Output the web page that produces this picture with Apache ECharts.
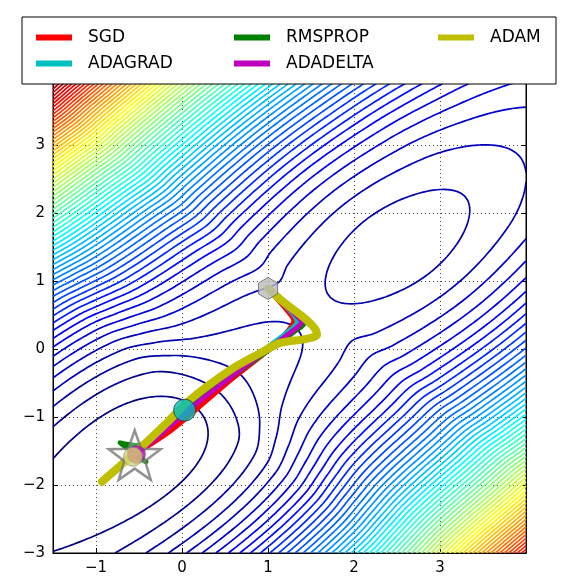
<!DOCTYPE html>
<html>
<head>
<meta charset="utf-8">
<script src="https://cdn.jsdelivr.net/npm/echarts@6/dist/echarts.min.js"></script>
<style>
html, body { margin: 0; padding: 0; background: #fff; }
#main { width: 574px; height: 581px; }
</style>
</head>
<body>
<div id="main"></div>
<script>
// optimizers and their paths (data coords)
var optimizers = ['SGD', 'ADAGRAD', 'RMSPROP', 'ADADELTA', 'ADAM'];
var sgdPath = [[1.0, 0.89], [1.12, 0.72], [1.24, 0.54], [1.3, 0.42], [1.2, 0.22], [0.98, -0.04], [0.6, -0.42], [0.2, -0.85], [-0.12, -1.19], [-0.45, -1.47]];
var adagradPath = [[1.0, 0.89], [1.15, 0.7], [1.3, 0.5], [1.34, 0.4], [1.22, 0.24], [1.0, 0.03], [0.6, -0.36], [0.3, -0.64], [0.03, -0.9]];
var rmspropPath = [[1.0, 0.89], [1.2, 0.66], [1.37, 0.46], [1.42, 0.38], [1.3, 0.25], [1.05, 0.02], [0.6, -0.38], [0.1, -0.84], [-0.3, -1.25], [-0.5, -1.42], [-0.72, -1.38], [-0.42, -1.66], [-0.58, -1.55]];
var adadeltaPath = [[1.0, 0.89], [1.2, 0.64], [1.35, 0.47], [1.39, 0.4], [1.26, 0.24], [1.0, 0.0], [0.6, -0.38], [0.15, -0.82], [-0.2, -1.2], [-0.5, -1.52]];
var adamPath = [[1.0, 0.89], [1.2, 0.67], [1.4, 0.48], [1.54, 0.31], [1.57, 0.21], [1.45, 0.15], [1.14, 0.09], [0.91, -0.06], [0.56, -0.31], [0.09, -0.75], [-0.18, -1.09], [-0.55, -1.53], [-0.93, -1.95]];
var paths = [sgdPath, adagradPath, rmspropPath, adadeltaPath, adamPath];

// markers: start, minimum, current positions
var startPoint = [1.0, 0.89];
var minPoint = [-0.55, -1.56];
var adagradNow = [0.03, -0.9];
var adadeltaNow = [-0.53, -1.55];
var adamNow = [-0.57, -1.585];

// surface: valley along x - y = 1,
// height along the valley floor (in contour steps) and the rise of the walls
var valleyOffset = 1.0;
var saddleSum = 2.1;
var valleyPos = [-6.0, -4.67, -3.1, -1.98, -1.63, -1.27, -0.33, 0.0, 0.27, 1.35, 2.43, 3.3, 4.3, 5.5];
var valleyLevel = [0.6, -0.2, -0.9, 0, 1, 2, 3, 3.3, 3.0, 2.45, 3.0, 4.0, 5.3, 7.0];
var wallQuad = 2.6;
var wallDip = 0.3;
var wallDipWidth = 2.0;
var lowerWallGain = 0.25;
var upperWallGain = 0.2;

// contour levels
var levelStart = 0;
var levelStep = 1;
var levelCount = 68;

var xRange = [-1.5, 4];
var yRange = [-3, 4];

var colors = ['#ff0000', '#00bfbf', '#008000', '#bf00bf', '#bfbf00'];
var widths = [5, 5, 5, 5, 8];

// monotone cubic through the valley profile
var slopes = (function () {
    var n = valleyPos.length, d = [], m = [];
    for (var k = 0; k < n - 1; k++) d.push((valleyLevel[k + 1] - valleyLevel[k]) / (valleyPos[k + 1] - valleyPos[k]));
    m[0] = d[0]; m[n - 1] = d[n - 2];
    for (var k = 1; k < n - 1; k++) m[k] = d[k - 1] * d[k] <= 0 ? 0 : (d[k - 1] + d[k]) / 2;
    for (var k = 0; k < n - 1; k++) {
        if (d[k] === 0) { m[k] = 0; m[k + 1] = 0; continue; }
        var al = m[k] / d[k], be = m[k + 1] / d[k], s2 = al * al + be * be;
        if (s2 > 9) { var t = 3 / Math.sqrt(s2); m[k] = t * al * d[k]; m[k + 1] = t * be * d[k]; }
    }
    return m;
})();

function valley(v) {
    var n = valleyPos.length;
    if (v <= valleyPos[0]) return valleyLevel[0] + slopes[0] * (v - valleyPos[0]);
    if (v >= valleyPos[n - 1]) return valleyLevel[n - 1] + slopes[n - 1] * (v - valleyPos[n - 1]);
    var k = 0;
    while (v > valleyPos[k + 1]) k++;
    var h = valleyPos[k + 1] - valleyPos[k], t = (v - valleyPos[k]) / h;
    var t2 = t * t, t3 = t2 * t;
    return (2 * t3 - 3 * t2 + 1) * valleyLevel[k] + (t3 - 2 * t2 + t) * h * slopes[k] +
        (-2 * t3 + 3 * t2) * valleyLevel[k + 1] + (t3 - t2) * h * slopes[k + 1];
}

function surface(x, y) {
    var u = (x - y - valleyOffset) / Math.SQRT2;
    var v = (x + y - saddleSum) / Math.SQRT2;
    var u2 = u * u;
    var wall = wallQuad * u2 * (1 - wallDip * Math.exp(-u2 / (wallDipWidth * wallDipWidth)));
    wall *= 1 + (u > 0 ? lowerWallGain : upperWallGain) * u2 / (u2 + 6);
    return valley(v) + wall;
}

function jet(t) {
    function c(a) { return Math.round(255 * Math.max(0, Math.min(1, a))); }
    return 'rgb(' + c(1.5 - Math.abs(4 * t - 3)) + ',' + c(1.5 - Math.abs(4 * t - 2)) + ',' + c(1.5 - Math.abs(4 * t - 1)) + ')';
}

// grid
var nx = 139, ny = 176;
var xs = [], ys = [], z = [];
for (var i = 0; i < nx; i++) xs.push(xRange[0] + i * (xRange[1] - xRange[0]) / (nx - 1));
for (var j = 0; j < ny; j++) ys.push(yRange[0] + j * (yRange[1] - yRange[0]) / (ny - 1));
for (var j = 0; j < ny; j++) {
    var row = [];
    for (var i = 0; i < nx; i++) row.push(surface(xs[i], ys[j]));
    z.push(row);
}

function edgePoint(id, lev) {
    var cell = id >> 1, i = cell % nx, j = (cell - i) / nx;
    var a = z[j][i];
    if ((id & 1) === 0) {
        var b = z[j][i + 1], t = (lev - a) / (b - a);
        return [xs[i] + t * (xs[i + 1] - xs[i]), ys[j]];
    }
    var b2 = z[j + 1][i], t2 = (lev - a) / (b2 - a);
    return [xs[i], ys[j] + t2 * (ys[j + 1] - ys[j])];
}

// marching squares, then join the pieces into polylines
function traceLevel(lev) {
    var segs = [];
    for (var j = 0; j < ny - 1; j++) {
        for (var i = 0; i < nx - 1; i++) {
            var a = z[j][i] > lev, b = z[j][i + 1] > lev, c = z[j + 1][i + 1] > lev, d = z[j + 1][i] > lev;
            var eB = (j * nx + i) * 2, eT = ((j + 1) * nx + i) * 2;
            var eL = (j * nx + i) * 2 + 1, eR = (j * nx + i + 1) * 2 + 1;
            var cr = [];
            if (a !== b) cr.push(eB);
            if (b !== c) cr.push(eR);
            if (c !== d) cr.push(eT);
            if (d !== a) cr.push(eL);
            if (cr.length === 2) segs.push(cr);
            else if (cr.length === 4) {
                var mid = (z[j][i] + z[j][i + 1] + z[j + 1][i + 1] + z[j + 1][i]) / 4 > lev;
                if (mid === a) { segs.push([eB, eR]); segs.push([eT, eL]); }
                else { segs.push([eL, eB]); segs.push([eR, eT]); }
            }
        }
    }
    var adj = {};
    segs.forEach(function (s, k) {
        (adj[s[0]] = adj[s[0]] || []).push(k);
        (adj[s[1]] = adj[s[1]] || []).push(k);
    });
    var used = new Uint8Array(segs.length);
    var lines = [];
    function step(cur) {
        var list = adj[cur] || [];
        for (var q = 0; q < list.length; q++) {
            if (!used[list[q]]) {
                used[list[q]] = 1;
                var s = segs[list[q]];
                return s[0] === cur ? s[1] : s[0];
            }
        }
        return null;
    }
    for (var k = 0; k < segs.length; k++) {
        if (used[k]) continue;
        used[k] = 1;
        var ids = [segs[k][0], segs[k][1]];
        var cur = segs[k][1], nxt;
        while ((nxt = step(cur)) !== null) { ids.push(nxt); cur = nxt; }
        cur = segs[k][0];
        while ((nxt = step(cur)) !== null) { ids.unshift(nxt); cur = nxt; }
        lines.push(ids.map(function (id) { return edgePoint(id, lev); }));
    }
    return lines;
}

var contourData = [];
for (var n = 0; n < levelCount; n++) {
    var lev = levelStart + n * levelStep;
    var col = jet(n / (levelCount - 1));
    traceLevel(lev).forEach(function (pl) {
        contourData.push({ coords: pl, lineStyle: { color: col } });
    });
}

var myChart = echarts.init(document.getElementById('main'));

function minus(v) { return String(v).replace('-', '\u2212'); }

var series = [{
    type: 'lines',
    coordinateSystem: 'cartesian2d',
    polyline: true,
    silent: true,
    lineStyle: { width: 1.7, opacity: 1 },
    data: contourData,
    z: 1
}];

for (var s = 0; s < optimizers.length; s++) {
    series.push({
        name: optimizers[s],
        type: 'line',
        data: paths[s],
        smooth: 0.3,
        showSymbol: false,
        color: colors[s],
        lineStyle: { width: widths[s], color: colors[s], cap: 'round', join: 'round' },
        z: 3 + s
    });
}

series.push({
    type: 'scatter', z: 10, silent: true,
    data: [minPoint],
    symbol: 'path://M0,-50L11.76,-16.18L47.55,-15.45L19.02,6.18L29.39,40.45L0,20L-29.39,40.45L-19.02,6.18L-47.55,-15.45L-11.76,-16.18Z',
    symbolSize: 52, symbolKeepAspect: true,
    itemStyle: { color: 'rgba(255,255,255,0.35)', borderColor: '#777777', borderWidth: 2.5 }
});
series.push({
    type: 'scatter', z: 11, silent: true,
    data: [adadeltaNow], symbolSize: 18,
    itemStyle: { color: '#bf00bf', borderColor: '#555', borderWidth: 0.8 }
});
series.push({
    type: 'scatter', z: 12, silent: true,
    data: [adamNow], symbolSize: 19,
    itemStyle: { color: 'rgba(210,210,110,0.95)', borderColor: '#888', borderWidth: 0.8 }
});
series.push({
    type: 'scatter', z: 12, silent: true,
    data: [adagradNow], symbolSize: 22,
    itemStyle: { color: '#00bfbf', borderColor: '#333', borderWidth: 1 }
});
series.push({
    type: 'scatter', z: 12, silent: true,
    data: [startPoint],
    symbol: 'path://M0,-10L8.66,-5L8.66,5L0,10L-8.66,5L-8.66,-5Z',
    symbolSize: 22, symbolKeepAspect: true,
    itemStyle: { color: '#bbbbbb', borderColor: '#666', borderWidth: 1 }
});

var legendBase = {
    orient: 'vertical',
    top: 24,
    itemWidth: 36,
    itemHeight: 6,
    itemGap: 9,
    icon: 'rect',
    z: 30,
    textStyle: { fontSize: 17, color: '#000', fontFamily: 'DejaVu Sans', padding: [0, 0, 0, 11] }
};

var tickStyle = { inside: true, length: 5, lineStyle: { color: '#000' } };
var dotted = { show: true, lineStyle: { color: '#000', type: [1, 3], width: 1, opacity: 0.7 } };

var option = {
    backgroundColor: '#ffffff',
    animation: false,
    textStyle: { fontFamily: 'DejaVu Sans' },
    grid: { left: 53, right: 48, top: 77, bottom: 28, show: true, borderColor: '#000', borderWidth: 1 },
    legend: [
        Object.assign({}, legendBase, { left: 31, data: ['SGD', 'ADAGRAD'] }),
        Object.assign({}, legendBase, { left: 229, data: ['RMSPROP', 'ADADELTA'] }),
        Object.assign({}, legendBase, { left: 433, data: ['ADAM'] })
    ],
    graphic: [{
        type: 'rect', z: 20,
        shape: { x: 22, y: 17, width: 534, height: 67 },
        style: { fill: '#fff', stroke: '#000', lineWidth: 1 }
    }],
    xAxis: {
        type: 'value', min: xRange[0], max: xRange[1], splitNumber: 5,
        axisLine: { onZero: false, lineStyle: { color: '#000' } },
        axisTick: tickStyle,
        axisLabel: {
            color: '#000', fontSize: 15, margin: 8,
            formatter: function (v) { return (v % 1 === 0 && v < xRange[1]) ? minus(v) : ''; }
        },
        splitLine: dotted
    },
    yAxis: [{
        type: 'value', min: yRange[0], max: yRange[1], splitNumber: 7,
        axisLine: { onZero: false, lineStyle: { color: '#000' } },
        axisTick: tickStyle,
        axisLabel: {
            color: '#000', fontSize: 15, margin: 8,
            formatter: function (v) { return (v % 1 === 0 && v < yRange[1]) ? minus(v) : ''; }
        },
        splitLine: dotted
    }, {
        type: 'value', position: 'right', min: yRange[0], max: yRange[1], splitNumber: 7,
        axisLine: { show: true, onZero: false, lineStyle: { color: '#000' } },
        axisTick: tickStyle,
        axisLabel: { show: false },
        splitLine: { show: false }
    }],
    series: series
};

myChart.setOption(option);
</script>
</body>
</html>
